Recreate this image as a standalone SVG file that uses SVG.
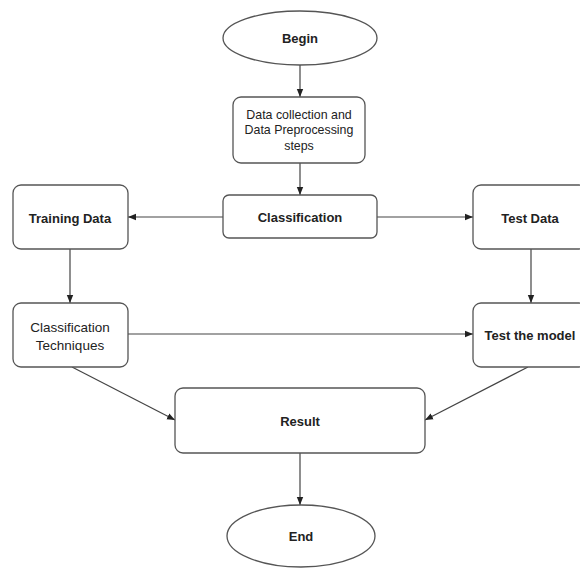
<svg xmlns="http://www.w3.org/2000/svg" width="580" height="569" viewBox="0 0 580 569">
<defs>
<style>
.node{fill:#fff;stroke:#555;stroke-width:1.3}
.t{font-family:"Liberation Sans",Arial,sans-serif;fill:#222;text-anchor:middle;dominant-baseline:central}
.b{font-weight:bold;font-size:13px}
.n{font-weight:normal}
.edge{fill:none;stroke:#444;stroke-width:1.2;marker-end:url(#arr)}
</style>
<marker id="arr" viewBox="0 0 10 10" refX="10" refY="5" markerWidth="8" markerHeight="8" markerUnits="userSpaceOnUse" orient="auto">
<path d="M0,1 L10,5 L0,9 Z" fill="#222"/>
</marker>
</defs>
<rect width="580" height="569" fill="#fff"/>
<g id="connectors">
<line class="edge" x1="300" y1="65" x2="300" y2="97"/>
<line class="edge" x1="300" y1="163" x2="300" y2="195"/>
<line class="edge" x1="223" y1="217" x2="128" y2="217"/>
<line class="edge" x1="377" y1="217" x2="473" y2="217"/>
<line class="edge" x1="70" y1="249" x2="70" y2="303"/>
<line class="edge" x1="531" y1="249" x2="531" y2="303"/>
<line class="edge" x1="128" y1="334" x2="473" y2="334"/>
<line class="edge" x1="72" y1="367" x2="175" y2="420"/>
<line class="edge" x1="528" y1="367" x2="425" y2="420"/>
<line class="edge" x1="300" y1="453" x2="300" y2="505"/>
</g>
<g id="begin">
<ellipse class="node" cx="300" cy="38" rx="77" ry="27"/>
<text class="t b" x="300" y="38" font-size="14">Begin</text>
</g>
<g id="data">
<rect class="node" x="233" y="97" width="132" height="66" rx="8"/>
<text class="t n" x="299" y="115" font-size="12.4">Data collection and</text>
<text class="t n" x="299" y="130" font-size="12.4">Data Preprocessing</text>
<text class="t n" x="299" y="146" font-size="12.4">steps</text>
</g>
<g id="classification">
<rect class="node" x="223" y="195" width="154" height="43" rx="6"/>
<text class="t b" x="300" y="217">Classification</text>
</g>
<g id="training">
<rect class="node" x="13" y="185" width="115" height="64" rx="8"/>
<text class="t b" x="70" y="218">Training Data</text>
</g>
<g id="testdata">
<rect class="node" x="473" y="185" width="114" height="64" rx="8"/>
<text class="t b" x="530" y="218">Test Data</text>
</g>
<g id="techniques">
<rect class="node" x="13" y="303" width="115" height="64" rx="8"/>
<text class="t n" x="70" y="327" font-size="13.5">Classification</text>
<text class="t n" x="70" y="345" font-size="13.5">Techniques</text>
</g>
<g id="testmodel">
<rect class="node" x="473" y="303" width="114" height="64" rx="8"/>
<text class="t b" x="530" y="335">Test the model</text>
</g>
<g id="result">
<rect class="node" x="175" y="388" width="250" height="65" rx="8"/>
<text class="t b" x="300" y="421">Result</text>
</g>
<g id="end">
<ellipse class="node" cx="301" cy="536" rx="74" ry="31"/>
<text class="t b" x="301" y="536" font-size="14">End</text>
</g>
</svg>
